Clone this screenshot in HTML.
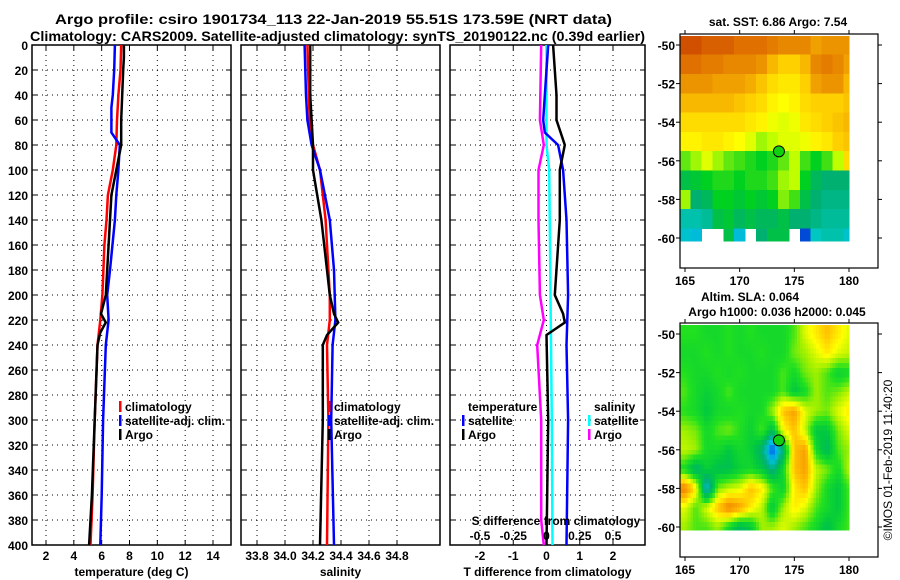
<!DOCTYPE html>
<html><head><meta charset="utf-8"><style>
body{margin:0;background:#fff;}
svg{display:block;font-family:"Liberation Sans",sans-serif;font-weight:bold;}
</style></head><body>
<svg id="fig" width="900" height="580" viewBox="0 0 900 580" xmlns="http://www.w3.org/2000/svg">
<text x="55" y="24" font-size="14" textLength="557" lengthAdjust="spacingAndGlyphs">Argo profile: csiro 1901734_113 22-Jan-2019 55.51S 173.59E (NRT data)</text>
<text x="30" y="41" font-size="14" textLength="615" lengthAdjust="spacingAndGlyphs">Climatology: CARS2009. Satellite-adjusted climatology: synTS_20190122.nc (0.39d earlier)</text>
<text x="778" y="26" font-size="12" text-anchor="middle">sat. SST: 6.86 Argo: 7.54</text>
<text x="750" y="301" font-size="12" text-anchor="middle">Altim. SLA: 0.064</text>
<text x="777" y="316" font-size="12" text-anchor="middle">Argo h1000: 0.036 h2000: 0.045</text>
<text x="0" y="0" font-size="12" font-weight="normal" text-anchor="middle" transform="translate(892,460) rotate(-90)">©IMOS 01-Feb-2019 11:40:20</text>
<g id="layer"></g>
</svg>
<script>
// ---------- profile data ----------
const depthTicks=[0,20,40,60,80,100,120,140,160,180,200,220,240,260,280,300,320,340,360,380,400];
const tempTicks=[2,4,6,8,10,12,14];
const salTicks=[33.8,34,34.2,34.4,34.6,34.8];
const tdiffTicks=[-2,-1,0,1,2];
const sdiffTickLabels=["-0.5","-0.25","0","0.25","0.5"];
const sdiffTicks=[-0.5,-0.25,0,0.25,0.5];

const tClimDepth=[0,20,40,60,80,100,120,140,160,200,220,240,300,360,400];
const tClim=[7.4,7.35,7.2,7.1,7.05,6.8,6.45,6.35,6.2,6.05,5.9,5.7,5.5,5.35,5.2];
const tSatDepth=[0,20,40,50,70,80,100,120,140,180,200,220,240,300,360,400];
const tSat=[6.95,6.9,6.8,6.7,6.7,7.3,7.2,7.05,6.95,6.6,6.4,6.5,6.3,6.1,6.0,5.9];
const tArgoDepth=[0,10,20,60,80,100,120,140,180,200,215,222,230,240,300,360,400];
const tArgo=[7.6,7.6,7.55,7.4,7.4,7.05,6.7,6.6,6.4,6.3,5.95,6.3,5.9,5.7,5.5,5.3,5.1];

const sClimDepth=[0,40,70,80,100,140,200,220,240,300,400];
const sClim=[34.16,34.17,34.18,34.2,34.25,34.29,34.32,34.32,34.3,34.31,34.3];
const sSatDepth=[0,40,60,80,100,140,180,220,240,300,400];
const sSat=[34.14,34.15,34.16,34.19,34.25,34.32,34.35,34.36,34.34,34.33,34.35];
const sArgoDepth=[0,40,80,100,120,140,180,200,215,222,232,240,300,400];
const sArgo=[34.18,34.18,34.2,34.2,34.23,34.26,34.3,34.32,34.35,34.38,34.3,34.27,34.27,34.25];

const dTSatDepth=[0,20,60,70,80,100,140,200,240,300,400];
const dTSat=[0.05,0.0,-0.1,-0.05,0.35,0.5,0.6,0.65,0.6,0.65,0.6];
const dTArgoDepth=[0,40,60,80,100,140,200,215,222,232,300,400];
const dTArgo=[0.2,0.3,0.3,0.55,0.4,0.4,0.25,0.5,0.55,0.0,0.05,0.0];
const dSSatDepth=[0,80,100,200,300,400];
const dSSat=[0.0,0.0,0.02,0.03,0.04,0.045];
const dSArgoDepth=[0,60,80,100,140,200,220,240,300,380,400];
const dSArgo=[-0.04,-0.05,-0.02,-0.06,-0.06,-0.05,-0.02,-0.07,-0.04,-0.04,-0.02];

// ---------- map data (rows lat -50..-60, cols lon 165..180) ----------
const sstLat=[-50,-51,-52,-53,-54,-55,-56,-57,-58,-59,-60];
const sstLon=[165,166,167,168,169,170,171,172,173,174,175,176,177,178,179,180];
const sstGrid=[
[8.4,8.4,8.3,8.3,8.3,8.2,8.2,8.2,8.1,8.0,8.0,8.0,7.8,7.9,7.9,7.9],
[8.2,8.2,8.1,8.1,8.0,8.0,8.0,7.9,7.6,7.4,7.4,7.6,8.0,8.1,8.0,7.8],
[7.9,7.9,7.9,7.8,7.8,7.8,7.7,7.5,7.3,7.2,7.2,7.4,7.8,7.9,7.9,7.6],
[7.6,7.6,7.6,7.6,7.6,7.5,7.4,7.3,7.1,7.0,7.1,7.3,7.4,7.4,7.4,7.5],
[7.3,7.3,7.3,7.3,7.3,7.3,7.2,7.1,6.9,6.8,6.9,7.2,7.3,7.4,7.5,7.6],
[7.1,7.1,7.2,7.2,7.1,7.0,6.8,6.5,6.6,6.8,6.8,6.9,7.1,7.2,7.4,7.5],
[6.3,6.5,6.8,6.5,6.3,6.2,6.1,6.0,6.1,6.3,6.6,6.2,6.0,6.2,6.6,7.3],
[5.8,5.9,6.0,6.1,6.1,6.0,6.1,6.1,6.2,6.5,6.6,6.0,5.7,5.6,5.6,5.6],
[6.5,5.6,5.7,6.0,6.0,5.9,6.0,5.9,6.0,6.4,6.2,5.8,5.6,5.5,5.5,5.5],
[5.3,5.3,5.4,5.8,5.9,5.7,5.8,5.7,5.7,5.8,5.6,5.6,5.5,5.4,5.4,5.4],
[5.1,5.0,null,null,5.8,5.0,null,5.6,5.8,5.8,null,4.4,5.2,5.3,5.3,5.1]];
const slaGrid=[
[0.01,0.01,0.0,0.0,0.01,0.0,0.01,0.0,0.0,0.0,0.02,0.06,0.08,0.1,0.08,0.06],
[0.0,0.0,0.01,0.0,0.01,0.0,0.0,0.01,0.0,0.0,0.03,0.04,0.06,0.08,0.06,0.05],
[0.01,0.0,0.0,0.01,0.0,0.01,0.0,0.0,0.0,0.02,0.0,0.03,0.04,0.02,-0.01,0.0],
[0.02,0.0,-0.01,0.0,0.02,0.0,0.0,0.0,0.0,0.02,-0.02,0.0,0.04,0.02,0.03,0.05],
[0.01,0.0,-0.02,0.0,0.0,0.01,0.0,0.0,0.04,0.1,0.12,0.06,0.04,0.03,0.06,0.08],
[0.04,0.03,0.0,0.02,0.03,0.01,-0.01,0.02,-0.03,0.07,0.1,0.05,-0.02,-0.02,0.03,0.06],
[0.05,0.04,0.0,0.0,-0.02,0.0,-0.01,-0.05,-0.16,-0.05,0.1,0.12,0.0,-0.04,0.02,0.04],
[0.0,-0.05,-0.01,-0.03,-0.03,-0.01,0.0,-0.02,-0.06,0.0,0.1,0.12,0.05,0.03,0.0,0.05],
[0.14,0.08,-0.1,0.03,0.05,0.06,0.1,0.08,0.02,-0.01,0.08,0.1,0.04,0.0,-0.02,0.02],
[0.06,0.02,0.06,0.1,0.14,0.12,0.08,0.05,-0.02,0.04,0.08,0.06,0.02,0.0,-0.02,0.02],
[0.04,0.02,0.02,0.04,0.0,-0.04,-0.02,0.04,0.04,0.06,0.04,0.02,0.0,-0.03,0.0,0.02]];
const mapLatTicks=[-50,-52,-54,-56,-58,-60];
const mapLonTicks=[165,170,175,180];
const floatLon=[173.59], floatLat=[-55.51];

// ---------- helpers ----------
const NS="http://www.w3.org/2000/svg";
const layer=document.getElementById('layer');
function mk(tag,at,parent){const e=document.createElementNS(NS,tag);for(const k in at)e.setAttribute(k,at[k]);(parent||layer).appendChild(e);return e;}
function lin(d0,d1,r0,r1){return v=>r0+(v-d0)*(r1-r0)/(d1-d0);}
function txt(s,x,y,anchor,size,name){const t=mk('text',{x:x,y:y,'text-anchor':anchor,'font-size':size});t.textContent=s;


return t;}

const yD=lin(0,400,45,545);
const panels=[
 {x0:32,x1:231,sx:lin(2,14,46,213),ticks:tempTicks,lab:t=>String(t),title:"temperature (deg C)",name:"temperature-panel"},
 {x0:241,x1:440,sx:lin(34,34.8,285,397),ticks:salTicks,lab:t=>t.toFixed(1),title:"salinity",name:"salinity-panel"},
 {x0:450,x1:645,sx:lin(-2,2,480,613),ticks:tdiffTicks,lab:t=>String(t),title:"T difference from climatology",name:"difference-panel"}];

panels.forEach(p=>{
 const g=mk('g',{});
 
 
 depthTicks.forEach(d=>{if(d>0&&d<400)mk('line',{x1:p.x0,x2:p.x1,y1:yD(d),y2:yD(d),stroke:'#000','stroke-width':1,'stroke-dasharray':'1 4'},g);
   mk('line',{x1:p.x0,x2:p.x0+5,y1:yD(d),y2:yD(d),stroke:'#000'},g);mk('line',{x1:p.x1-5,x2:p.x1,y1:yD(d),y2:yD(d),stroke:'#000'},g);});
 p.ticks.forEach(t=>{const x=p.sx(t);mk('line',{x1:x,x2:x,y1:45,y2:545,stroke:'#000','stroke-dasharray':'1 4'},g);
   mk('line',{x1:x,x2:x,y1:540,y2:545,stroke:'#000'},g);mk('line',{x1:x,x2:x,y1:45,y2:50,stroke:'#000'},g);
   txt(p.lab(t),x,560,'middle',12,'x-tick-label');});
 mk('rect',{x:p.x0,y:45,width:p.x1-p.x0,height:500,fill:'none',stroke:'#000','stroke-width':1.5},g);
 txt(p.title,(p.x0+p.x1)/2,576,'middle',12,'x-axis-title');
});
depthTicks.forEach(d=>txt(String(d),28,yD(d)+5,'end',12,'depth-tick-label'));

function profile(depth,vals,sx,color,name){
 const pts=depth.map((d,i)=>sx(vals[i]).toFixed(1)+','+yD(d).toFixed(1)).join(' ');
 const l=mk('polyline',{points:pts,fill:'none',stroke:color,'stroke-width':2.5});
 
 
}
const P=panels;
profile(tClimDepth,tClim,P[0].sx,'#f00','temp-climatology-line');
profile(tSatDepth,tSat,P[0].sx,'#00f','temp-satellite-line');
profile(tArgoDepth,tArgo,P[0].sx,'#000','temp-argo-line');
profile(sClimDepth,sClim,P[1].sx,'#f00','sal-climatology-line');
profile(sSatDepth,sSat,P[1].sx,'#00f','sal-satellite-line');
profile(sArgoDepth,sArgo,P[1].sx,'#000','sal-argo-line');
const sdx=lin(-0.5,0.5,480,613);
profile(dSArgoDepth,dSArgo,sdx,'#f0f','sdiff-argo-line');
profile(dSSatDepth,dSSat,sdx,'#0ff','sdiff-satellite-line');
profile(dTSatDepth,dTSat,P[2].sx,'#00f','tdiff-satellite-line');
profile(dTArgoDepth,dTArgo,P[2].sx,'#000','tdiff-argo-line');

txt("S difference from climatology",556,525,'middle',12,'s-diff-axis-title');
sdiffTicks.forEach((t,i)=>txt(sdiffTickLabels[i],sdx(t),540,'middle',12,'s-diff-tick-label'));

function legend(x,y,color,label,name){
 const g=mk('g',{});
 
 
 if(color)mk('rect',{x:x-6,y:y-10,width:2.5,height:11,fill:color},g);
 const t=mk('text',{x:x,y:y,'font-size':12},g);t.textContent=label;
}
legend(125,411,'#f00','climatology','legend-climatology');
legend(125,425,'#00f','satellite-adj. clim.','legend-satellite');
legend(125,439,'#000','Argo','legend-argo');
legend(334,411,'#f00','climatology','legend-climatology');
legend(334,425,'#00f','satellite-adj. clim.','legend-satellite');
legend(334,439,'#000','Argo','legend-argo');
legend(468,411,null,'temperature','legend-temperature-header');
legend(468,425,'#00f','satellite','legend-temp-satellite');
legend(468,439,'#000','Argo','legend-temp-argo');
legend(594,411,null,'salinity','legend-salinity-header');
legend(594,425,'#0ff','satellite','legend-sal-satellite');
legend(594,439,'#f0f','Argo','legend-sal-argo');

// ---------- maps ----------
function hx(h){return [parseInt(h.substr(1,2),16),parseInt(h.substr(3,2),16),parseInt(h.substr(5,2),16)];}
function cm(stops,v){
 let c;
 if(v<=stops[0][0])c=stops[0][1];
 else if(v>=stops[stops.length-1][0])c=stops[stops.length-1][1];
 else for(let i=1;i<stops.length;i++){if(v<=stops[i][0]){const a=stops[i-1],b=stops[i],f=(v-a[0])/(b[0]-a[0]);
  c=[0,1,2].map(k=>Math.round(a[1][k]+(b[1][k]-a[1][k])*f));break;}}
 return 'rgb('+c.join(',')+')';
}
const sstStops=[[4.3,'#0030d0'],[4.8,'#00b0f0'],[5.2,'#00c8c0'],[5.6,'#00b070'],[6.0,'#00d020'],[6.6,'#c0ff00'],[7.0,'#ffff00'],[7.4,'#ffd000'],[7.8,'#f0a000'],[8.2,'#e07000'],[8.6,'#c03000']].map(s=>[s[0],hx(s[1])]);
const slaStops=[[-0.16,'#0050f0'],[-0.1,'#00c0e0'],[-0.05,'#00b070'],[-0.02,'#00c840'],[0.01,'#20e020'],[0.04,'#a0f000'],[0.07,'#ffff00'],[0.1,'#ffc000'],[0.14,'#f08000']].map(s=>[s[0],hx(s[1])]);

function sample(grid,r,c){ // bilinear lookup at fractional row/col (display only)
 const R=grid.length-1,C=grid[0].length-1;
 r=Math.max(0,Math.min(R,r));c=Math.max(0,Math.min(C,c));
 const r0=Math.min(R,Math.floor(r)),c0=Math.min(C,Math.floor(c));
 const r1=Math.min(R,r0+1),c1=Math.min(C,c0+1);
 const fr=r-r0,fc=c-c0;
 const a=grid[r0][c0],b=grid[r0][c1],d=grid[r1][c0],e=grid[r1][c1];
 if(a===null||b===null||d===null||e===null)return grid[Math.round(r)][Math.round(c)];
 return (a*(1-fc)+b*fc)*(1-fr)+(d*(1-fc)+e*fc)*fr;
}

function drawMap(yTop,grid,stops,name,sub){
 const fx=lin(165,180,685,849), fy=lin(-50,-60,yTop+11,yTop+204);
 const g=mk('g',{});
 
 
 const cw=(fx(166)-fx(165))/sub, ch=(fy(-51)-fy(-50))/sub;
 const nR=grid.length*sub, nC=grid[0].length*sub;
 for(let i=0;i<nR;i++){
  for(let j=0;j<nC;j++){
   const r=(i+0.5)/sub-0.5, c=(j+0.5)/sub-0.5;
   const v=sub>1?sample(grid,r,c):grid[i][j];
   if(v===null||v===undefined)continue;
   const lx=fx(165-0.5+j/sub), ty=fy(-50+0.5-i/sub);
   const x0=Math.max(680,lx), x1=Math.min(849,lx+cw);
   const y0=Math.max(yTop+2,ty), y1=Math.min(yTop+207,ty+ch);
   if(x1<=x0||y1<=y0)continue;
   const cell=mk('rect',{x:x0.toFixed(2),y:y0.toFixed(2),width:(x1-x0+0.6).toFixed(2),height:(y1-y0+0.6).toFixed(2),fill:cm(stops,v),'shape-rendering':'crispEdges'},g);
   
   
  }
 }
 mk('rect',{x:680,y:yTop,width:198,height:234,fill:'none',stroke:'#000','stroke-width':1.2},g);
 mapLatTicks.forEach(t=>{const y=fy(t);mk('line',{x1:680,x2:676,y1:y,y2:y,stroke:'#000'},g);mk('line',{x1:878,x2:882,y1:y,y2:y,stroke:'#000'},g);
   txt(String(t),675,y+5,'end',12,'lat-tick-label');});
 mapLonTicks.forEach(t=>{const x=fx(t);mk('line',{x1:x,x2:x,y1:yTop+234,y2:yTop+238,stroke:'#000'},g);mk('line',{x1:x,x2:x,y1:yTop,y2:yTop-4,stroke:'#000'},g);
   txt(String(t),x,yTop+251,'middle',12,'lon-tick-label');});
 floatLon.forEach((lo,i)=>{const m=mk('circle',{cx:fx(lo),cy:fy(floatLat[i]),r:5.5,fill:'#10d010',stroke:'#000','stroke-width':1},g);
   
   });
}
drawMap(34,sstGrid,sstStops,'sst-map',1);
drawMap(323,slaGrid,slaStops,'sla-map',4);
</script>
</body></html>
